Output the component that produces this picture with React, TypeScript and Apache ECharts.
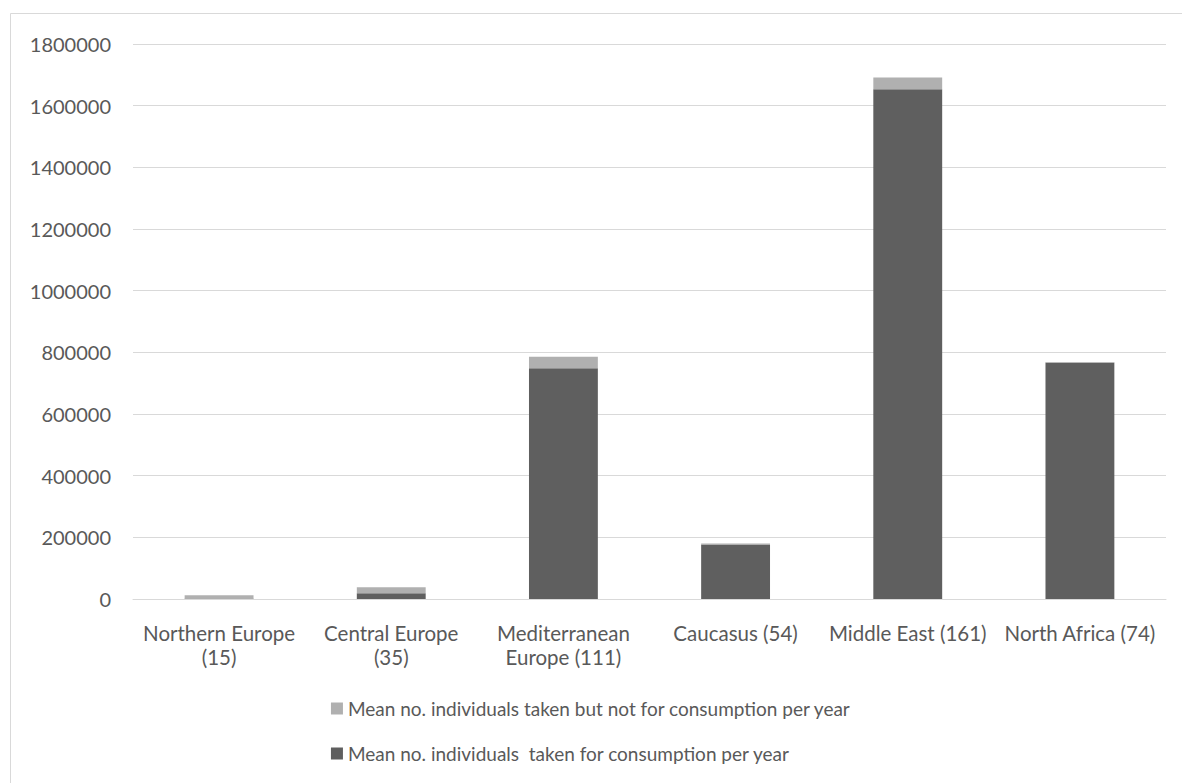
import React, { useEffect, useRef } from "react";
import * as echarts from "echarts";

const categories = [
  "Northern Europe\n(15)",
  "Central Europe\n(35)",
  "Mediterranean\nEurope (111)",
  "Caucasus (54)",
  "Middle East (161)",
  "North Africa (74)",
];
const consumption = [2000, 19000, 748000, 177000, 1653000, 766000];
const notConsumption = [10000, 19000, 38000, 3000, 38000, 3000];
const seriesNames = [
  "Mean no. individuals taken but not for consumption per year",
  "Mean no. individuals  taken for consumption per year",
];

const FONT = "Lato, 'Open Sans', sans-serif";
const TEXT = "#595959";

export default function App() {
  const ref = useRef<HTMLDivElement>(null);
  useEffect(() => {
    const chart = echarts.init(ref.current!, undefined, { renderer: "svg" });
    chart.setOption({
      animation: false,
      backgroundColor: "#ffffff",
      textStyle: { fontFamily: FONT, color: TEXT },
      graphic: [
        {
          type: "rect",
          shape: { x: 10.5, y: 13.5, width: 1180, height: 800 },
          style: { fill: "none", stroke: "#d9d9d9", lineWidth: 1 },
          silent: true,
        },
      ],
      grid: { left: 133, right: 16, top: 44, bottom: 184, containLabel: false },
      legend: {
        orient: "vertical",
        left: "center",
        top: 694,
        icon: "rect",
        itemWidth: 12,
        itemHeight: 12,
        itemGap: 26,
        data: [seriesNames[0], seriesNames[1]],
        textStyle: { fontFamily: FONT, fontSize: 19, color: TEXT },
      },
      xAxis: {
        type: "category",
        data: categories,
        axisTick: { show: false },
        axisLine: { lineStyle: { color: "#d9d9d9", width: 1 } },
        axisLabel: {
          interval: 0,
          margin: 22,
          fontFamily: FONT,
          fontSize: 20.5,
          lineHeight: 24,
          color: TEXT,
        },
      },
      yAxis: {
        type: "value",
        min: 0,
        max: 1800000,
        interval: 200000,
        axisLine: { show: false },
        axisTick: { show: false },
        splitLine: { lineStyle: { color: "#d9d9d9", width: 1 } },
        axisLabel: {
          margin: 22,
          fontFamily: FONT,
          fontSize: 20,
          color: TEXT,
          formatter: (v: number) => String(v),
        },
      },
      series: [
        {
          name: seriesNames[1],
          type: "bar",
          stack: "total",
          data: consumption,
          barCategoryGap: "60%",
          itemStyle: { color: "#5f5f5f" },
        },
        {
          name: seriesNames[0],
          type: "bar",
          stack: "total",
          data: notConsumption,
          barCategoryGap: "60%",
          itemStyle: { color: "#b0b0b0" },
        },
      ],
    });
    return () => chart.dispose();
  }, []);
  return (
    <div
      ref={ref}
      style={{ position: "fixed", left: 0, top: 0, width: 1182, height: 783 }}
    />
  );
}
